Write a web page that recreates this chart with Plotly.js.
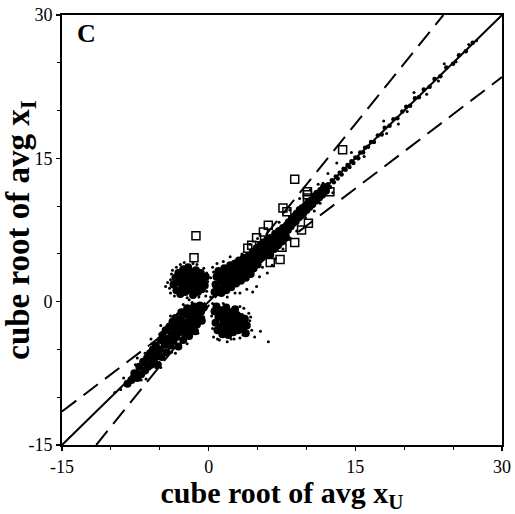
<!DOCTYPE html>
<html><head><meta charset="utf-8">
<script src="https://cdn.plot.ly/plotly-3.0.1.min.js"></script>
<style>html,body{margin:0;padding:0;background:#fff}#chart{width:515px;height:514px}</style>
</head><body><div id="chart"></div>
<script>
// Axis settings / tick labels
const axisRange = [-15, 30];
const tickVals = [-15, 0, 15, 30];
const tickText = ['-15', '0', '15', '30'];
const panelLabel = 'C';
const xTitle = 'cube root of avg x<sub>U</sub>';
const yTitle = 'cube root of avg x<sub>I</sub>';

// Reference lines (endpoints)
const diagX = [-15, 30], diagY = [-15, 30];
const dashSteepX = [-11.5, 24], dashSteepY = [-15, 30];
const dashFlatX = [-15, 30], dashFlatY = [-11.5, 23.5];

// Dense main band (upper right, lower part)
const bandCore = [[0.6,1.0],[0.7,1.8],[0.8,2.6],[1.0,1.3],[1.0,3.2],[1.2,2.1],[1.3,0.9],[1.4,2.8],[1.5,1.6],[1.6,3.5],[1.7,2.3],[1.8,1.2],[1.9,3.0],[2.0,1.9],[2.1,2.6],[2.2,3.8],[2.3,1.5],[2.4,3.2],[2.5,2.2],[2.6,2.9],[2.7,4.0],[2.8,1.9],[2.9,3.5],[3.0,2.6],[3.1,4.3],[3.2,3.1],[3.3,2.2],[3.4,3.8],[3.5,2.8],[3.6,4.6],[3.7,3.4],[3.8,2.5],[3.9,4.1],[4.0,3.1],
[4.1,4.8],[4.2,3.7],[4.3,2.9],[4.4,4.3],[4.5,5.2],[4.6,3.5],[4.7,4.7],[4.8,4.0],[4.9,5.6],[5.0,3.9],[5.1,5.0],[5.2,4.4],[5.3,5.9],[5.4,4.6],[5.5,5.3],[5.6,6.2],[5.7,4.8],[5.8,5.6],[5.9,5.1],[6.0,6.5],[6.1,5.4],[6.2,6.0],[6.3,4.9],[6.4,6.7],[6.5,5.8],[6.6,6.3],[6.7,5.5],[6.8,7.1],[6.9,6.2],[7.0,6.7],[7.1,5.9],[7.2,7.4],[7.3,6.6],[7.4,7.0],[7.5,6.3],[7.6,7.7],[7.7,7.0],[7.8,7.4],[7.9,6.8],[8.0,8.0],
[8.1,7.5],[8.2,8.3],[8.4,7.9],[8.5,8.7],[8.6,8.2],[8.8,8.9],[8.9,8.4],[9.0,9.2],[9.2,8.8],[9.3,9.6],[9.4,9.0],[9.6,9.8],[9.7,9.3],[9.9,10.0],[10.0,9.6],[10.2,10.4],[10.3,9.9],[10.5,10.6],[10.6,10.2],[10.8,11.0],[11.0,10.6],[11.1,11.3],[11.3,10.9],[11.5,11.6],[11.6,11.2],[11.8,12.0],[12.0,11.6]];

// Thinner upper part of the main band
const bandUpper = [[12.2,12.3],[12.4,12.0],[12.6,12.7],[12.8,12.5],[13.0,13.1],[13.2,12.9],[13.4,13.5],[13.6,13.3],[13.8,13.9],[14.0,13.8],[14.2,14.3],[14.4,14.1],[14.6,14.7],[14.8,14.5],[15.0,15.1],[15.3,15.0],[15.5,15.6],[15.8,15.6],[16.0,16.1],[16.3,16.2],[16.6,16.7],[16.9,16.7],
[17.3,17.4],[17.7,17.5],[18.0,18.2],[18.5,18.4],[18.9,19.1],[19.3,19.2],[19.8,19.9],[20.2,20.4],[20.6,20.5],[21.1,21.3],[21.5,21.4],[22.0,22.2],[22.6,22.5],[23.1,23.3],[23.7,23.6],[24.3,24.5],[25.0,24.9],[25.6,25.8],[26.3,26.2],[27.0,27.1]];

// Dense lower-left band
const lowerLeft = [[-8.3,-8.6],[-7.9,-8.2],[-7.6,-7.5],[-7.3,-8.0],[-7.1,-6.8],[-6.9,-7.6],[-6.7,-6.3],[-6.5,-7.2],[-6.3,-5.9],[-6.2,-6.8],[-6.0,-5.4],[-5.9,-6.6],[-5.7,-5.0],[-5.6,-6.1],[-5.4,-4.6],[-5.3,-5.7],[-5.2,-6.6],[-5.0,-5.0],[-4.9,-4.0],[-4.8,-5.8],[-4.7,-3.5],[-4.5,-4.5],[-4.4,-3.0],[-4.3,-5.3],[-4.2,-3.9],[-4.0,-2.6],[-3.9,-4.6],[-3.8,-3.4],[-3.7,-2.1],[-3.6,-4.1],[-3.5,-2.9],[-3.4,-1.7],[-3.3,-3.7],[-3.2,-2.5],[-3.1,-4.7],[-3.0,-3.2],[-2.9,-1.9],[-2.8,-1.1],[-2.7,-2.8],[-2.6,-4.0],[-2.5,-2.2],[-2.4,-3.3],[-2.3,-1.4],[-2.2,-0.7],[-2.1,-2.6],[-2.0,-3.6],[-1.9,-1.8],[-1.8,-2.9],[-1.7,-1.0],[-1.6,-2.2],[-1.5,-0.5],[-1.4,-3.1],[-1.3,-1.5],[-1.2,-2.4],[-1.1,-0.8],[-1.0,-1.7],[-0.9,-0.4],[-0.8,-1.1],[-0.7,-2.0],[-0.5,-0.6]];

// Off-diagonal clusters
const upperLeft = [[-3.6,1.8],[-3.4,2.5],[-3.3,1.2],[-3.1,3.0],[-3.0,2.0],[-2.9,0.8],[-2.8,2.7],[-2.7,1.5],[-2.6,3.4],[-2.5,2.2],[-2.4,1.0],[-2.3,2.9],[-2.2,1.7],[-2.1,3.6],[-2.0,2.4],[-1.9,1.3],[-1.8,3.1],[-1.7,2.0],[-1.6,0.7],[-1.5,2.7],[-1.4,1.5],[-1.3,3.3],[-1.2,2.2],[-1.1,1.0],[-1.0,2.8],[-0.9,1.8],[-0.8,3.0],[-0.7,1.3],[-0.6,2.3],[-0.4,1.7],[-0.3,2.6]];
const lowerRight = [[0.6,-1.0],[0.7,-2.2],[0.8,-0.5],[0.9,-3.0],[1.0,-1.6],[1.2,-2.6],[1.3,-0.9],[1.4,-3.4],[1.5,-2.0],[1.6,-1.3],[1.7,-2.8],[1.8,-0.6],[1.9,-2.3],[2.0,-3.5],[2.1,-1.7],[2.2,-2.9],[2.3,-1.1],[2.4,-2.4],[2.5,-3.2],[2.6,-1.8],[2.7,-0.8],[2.8,-2.6],[2.9,-1.4],[3.0,-3.0],[3.1,-2.1],[3.3,-1.6],[3.4,-2.8],[3.5,-2.2],[3.7,-1.8],[3.8,-3.3],[3.9,-2.5]];

// Sparse scattered points
const sparsePts = [[-3.9,2.3],[-3.7,3.3],[-4.0,1.4],[-2.9,3.9],[-1.6,4.0],[-0.5,3.5],[-0.2,1.1],[-2.2,0.4],[-3.5,0.6],[-1.0,0.5],
[-4.2,2.0],[-3.9,0.9],[-3.8,2.9],[-3.3,3.6],[-2.5,4.1],[-2.0,0.2],[-1.2,3.9],[-0.1,2.1],[-0.2,3.0],[-4.4,1.6],
[0.5,-3.7],[0.9,-3.9],[1.9,-4.2],[2.6,-3.9],[3.2,-3.8],[4.2,-2.0],[4.4,-3.0],[4.7,-3.7],[6.1,-4.2],[4.1,-1.2],[0.4,-0.2],[3.6,-0.7],
[0.3,-1.5],[0.4,-2.8],[1.1,-4.0],[2.3,-3.9],[3.5,-3.5],[4.3,-1.6],[4.0,-2.6],[3.2,-0.5],[1.5,-0.2],[5.3,-3.1],
[0.85,4.0],[1.5,4.2],[0.4,3.6],[2.2,4.7],[3.2,0.9],[4.5,1.0],[3.9,1.3],[4.9,1.6],[6.0,3.0],[5.5,3.6],[6.8,4.5],[7.6,5.5],[8.3,6.5],[8.3,9.6],[9.3,10.8],[10.4,11.7],[11.7,12.4],[12.7,11.4],[13.1,14.5],[12.2,13.4],[11.4,10.3],[9.9,8.8],[14.6,15.6],[15.9,15.2],[17.9,18.9],[19.4,18.6],[21.0,21.9],[22.3,21.7],[24.1,24.9],[25.3,25.1],[26.6,26.9],[27.4,27.3],[20.3,19.9],[18.2,17.6],[23.5,23.1],[-0.3,0.6],[0.2,0.5],
[0.2,2.5],[0.5,3.1],[1.9,0.5],[2.7,0.9],[5.2,2.6],[6.5,3.8],[3.4,5.0],[4.2,6.0],[5.0,6.6],[7.2,8.3],[9.0,7.4],[10.8,9.5],[11.2,12.3],
[-9.6,-9.5],[-7.9,-7.8],[-9.0,-9.2],[-8.7,-8.0],[-6.5,-5.4],[-5.8,-4.4],[-5.0,-3.4],[-4.6,-6.0],[-3.8,-5.3],[-2.9,-4.4],[-2.4,-3.7],[-1.4,-3.2],[-0.9,-2.2],[-4.3,-2.6],[-3.2,-1.3],[-6.9,-8.2],[-7.5,-6.6],[-5.4,-6.9],[-1.7,-0.1],[-0.5,-1.6],
[-5.9,-3.9],[-4.9,-2.5],[-3.9,-1.5],[-2.6,-0.3],[-1.1,-3.3],[-2.2,-4.4],[-3.4,-5.4],[-4.9,-6.9],[-6.4,-8.1],[-7.3,-5.9]];

// Open-square points
const squarePts = [[13.7,15.9],[8.8,12.8],[10.1,11.5],[10.1,11.2],[10.1,10.85],[7.6,9.8],[8.0,9.4],[-1.3,6.9],[-1.5,4.6],[6.1,8.0],[5.6,7.3],[4.9,6.7],[4.4,5.9],[4.0,5.6],[8.8,6.2],[10.2,8.2],[9.5,7.5],[7.3,4.4],[6.3,4.1],[7.5,5.7],[3.4,-2.8],[12.4,11.5]];

const col = (pts, i) => pts.map(p => p[i]);
const dense = bandCore.concat(lowerLeft, upperLeft, lowerRight);

const traces = [
  {x: diagX, y: diagY, mode: 'lines', line: {color: '#000', width: 2}, hoverinfo: 'skip'},
  {x: dashSteepX, y: dashSteepY, mode: 'lines', line: {color: '#000', width: 2, dash: '18px,9px'}, hoverinfo: 'skip'},
  {x: dashFlatX, y: dashFlatY, mode: 'lines', line: {color: '#000', width: 2, dash: '18px,9px'}, hoverinfo: 'skip'},
  {x: col(dense, 0), y: col(dense, 1), mode: 'markers', type: 'scatter', marker: {color: '#000', size: 8}},
  {x: col(bandUpper, 0), y: col(bandUpper, 1), mode: 'markers', type: 'scatter', marker: {color: '#000', size: 4.5}},
  {x: col(sparsePts, 0), y: col(sparsePts, 1), mode: 'markers', type: 'scatter', marker: {color: '#000', size: 3}},
  {x: col(squarePts, 0), y: col(squarePts, 1), mode: 'markers', type: 'scatter',
   marker: {symbol: 'square-open', color: '#000', size: 8, line: {width: 1.5, color: '#000'}}}
];

const serif = 'Liberation Serif, Times New Roman, serif';
const axisCommon = {
  range: axisRange, tickvals: tickVals, ticktext: tickText,
  showgrid: false, zeroline: false,
  showline: true, mirror: true, linecolor: '#000', linewidth: 2,
  ticks: 'outside', ticklen: 4, tickwidth: 1.5, tickcolor: '#000',
  minor: {dtick: 5, tick0: -15, ticks: 'outside', ticklen: 3, tickcolor: '#000', tickwidth: 1},
  tickfont: {family: serif, size: 18, color: '#000'}
};

const layout = {
  width: 515, height: 514,
  margin: {l: 62, r: 13, t: 15, b: 69},
  paper_bgcolor: '#fff', plot_bgcolor: '#fff',
  showlegend: false,
  xaxis: Object.assign({}, axisCommon, {
    title: {text: xTitle, font: {family: serif, size: 30, color: '#000', weight: 'bold'}, standoff: 4}
  }),
  yaxis: Object.assign({}, axisCommon, {
    title: {text: yTitle, font: {family: serif, size: 33, color: '#000', weight: 'bold'}, standoff: 0}
  }),
  annotations: [{
    text: '<b>' + panelLabel + '</b>', xref: 'paper', yref: 'paper', x: 0.03, y: 0.995,
    xanchor: 'left', yanchor: 'top', showarrow: false,
    font: {family: serif, size: 26, color: '#000'}
  }]
};

Plotly.newPlot('chart', traces, layout, {displayModeBar: false, staticPlot: true});
</script></body></html>
